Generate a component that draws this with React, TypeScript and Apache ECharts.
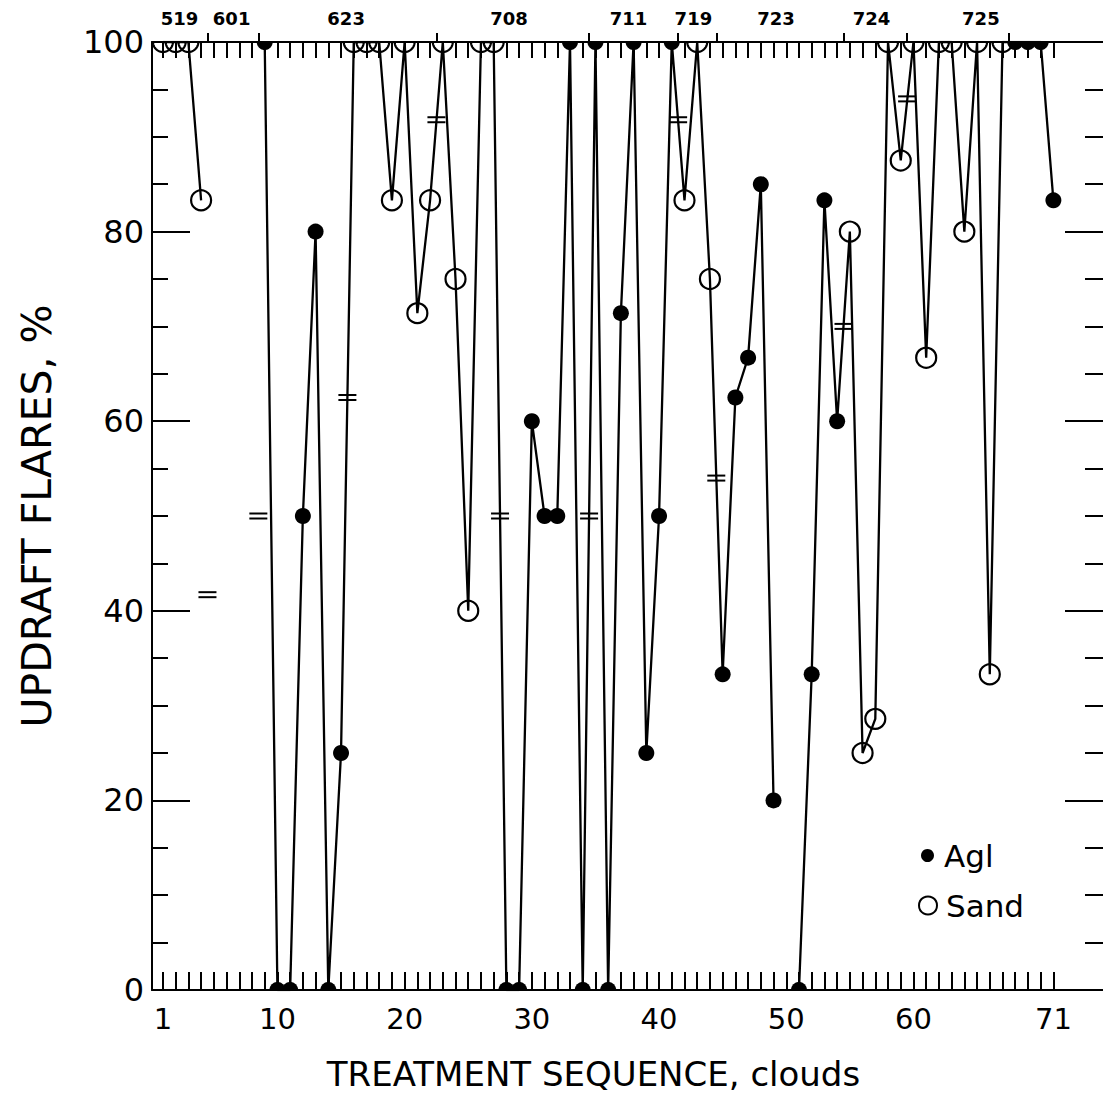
import React, { useEffect, useRef } from 'react';
import * as echarts from 'echarts';

// Cloud treatment sequence (1..71). null = no cloud plotted.
const cloudNumbers = [
  1, 2, 3, 4, 5, 6, 7, 8, 9, 10, 11, 12, 13, 14, 15, 16, 17, 18, 19, 20,
  21, 22, 23, 24, 25, 26, 27, 28, 29, 30, 31, 32, 33, 34, 35, 36, 37, 38, 39, 40,
  41, 42, 43, 44, 45, 46, 47, 48, 49, 50, 51, 52, 53, 54, 55, 56, 57, 58, 59, 60,
  61, 62, 63, 64, 65, 66, 67, 68, 69, 70, 71,
];
// A = AgI, S = Sand
const treatment = [
  'S', 'S', 'S', 'S', null, null, null, null, 'A', 'A', 'A', 'A', 'A', 'A', 'A', 'S', 'S', 'S', 'S', 'S',
  'S', 'S', 'S', 'S', 'S', 'S', 'S', 'A', 'A', 'A', 'A', 'A', 'A', 'A', 'A', 'A', 'A', 'A', 'A', 'A',
  'A', 'S', 'S', 'S', 'A', 'A', 'A', 'A', 'A', null, 'A', 'A', 'A', 'A', 'S', 'S', 'S', 'S', 'S', 'S',
  'S', 'S', 'S', 'S', 'S', 'S', 'S', 'A', 'A', 'A', 'A',
];
const updraftFlaresPct = [
  100, 100, 100, 83.3, null, null, null, null, 100, 0, 0, 50, 80, 0, 25, 100, 100, 100, 83.3, 100,
  71.4, 83.3, 100, 75, 40, 100, 100, 0, 0, 60, 50, 50, 100, 0, 100, 0, 71.4, 100, 25, 50,
  100, 83.3, 100, 75, 33.3, 62.5, 66.7, 85, 20, null, 0, 33.3, 83.3, 60, 80, 25, 28.6, 100, 87.5, 100,
  66.7, 100, 100, 80, 100, 33.3, 100, 100, 100, 100, 83.3,
];

const xTickLabels = [1, 10, 20, 30, 40, 50, 60, 71];
const yTickLabels = [0, 20, 40, 60, 80, 100];

// Day (date) groups along the top
const dayLabels = ['519', '601', '623', '708', '711', '719', '723', '724', '725'];
const dayLabelPositions = [2.3, 6.4, 15.4, 28.2, 37.6, 42.7, 49.2, 56.7, 65.3];
const dayBoundaries = [4.5, 8.5, 22.5, 34.5, 41.5, 44.5, 54.5, 59.5, 67.5];

// Break marks "=" drawn across the trace
const breakMarkX = [4.5, 8.5, 15.5, 22.5, 27.5, 34.5, 41.5, 44.5, 54.5, 59.5];
const breakMarkY = [41.7, 50, 62.5, 91.8, 50, 50, 91.8, 54, 70, 94];

const X_MIN = 0.14;
const X_MAX = 74.9;
const Y_MIN = 0;
const Y_MAX = 100;
const FONT = 'DejaVu Sans';

// part of a marker that stays inside the plot frame (markers on the frame are cut in half)
function visibleAngles(v: number): [number, number] | null {
  if (v >= Y_MAX) return [0, Math.PI]; // on top edge: lower half (screen y grows downward)
  if (v <= Y_MIN) return [Math.PI, Math.PI * 2]; // on bottom edge: upper half
  return null;
}

function arcPoints(cx: number, cy: number, r: number, a0: number, a1: number, n = 24): number[][] {
  const pts: number[][] = [];
  for (let k = 0; k <= n; k++) {
    const a = a0 + ((a1 - a0) * k) / n;
    pts.push([cx + r * Math.cos(a), cy + r * Math.sin(a)]);
  }
  return pts;
}

export default function App() {
  const ref = useRef<HTMLDivElement>(null);

  useEffect(() => {
    if (!ref.current) return;
    const chart = echarts.init(ref.current, null, { renderer: 'svg' });

    const lineData = cloudNumbers.map((c, i) => [c, updraftFlaresPct[i] === null ? '-' : updraftFlaresPct[i]]);
    const aglData = cloudNumbers
      .map((c, i) => (treatment[i] === 'A' ? [c, updraftFlaresPct[i]] : null))
      .filter((d) => d !== null);
    const sandData = cloudNumbers
      .map((c, i) => (treatment[i] === 'S' ? [c, updraftFlaresPct[i]] : null))
      .filter((d) => d !== null);
    const breakData = breakMarkX.map((x, i) => [x, breakMarkY[i]]);

    const black = '#000';
    const axisLineStyle = { color: black, width: 2 };

    chart.setOption({
      animation: false,
      backgroundColor: '#fff',
      textStyle: { fontFamily: FONT, color: black },
      grid: { left: 152, right: 0, top: 42, bottom: 121, containLabel: false },
      legend: [
        {
          data: [{ name: 'Agl', icon: 'circle', itemStyle: { color: black } }],
          selectedMode: false,
          orient: 'vertical',
          left: 916,
          top: 835,
          itemWidth: 13,
          itemHeight: 13,
          textStyle: { fontSize: 31, color: black, fontFamily: FONT, padding: [0, 0, 0, 5] },
        },
        {
          data: [
            {
              name: 'Sand',
              icon: 'circle',
              itemStyle: { color: 'rgba(0,0,0,0)', borderColor: black, borderWidth: 2 },
            },
          ],
          selectedMode: false,
          orient: 'vertical',
          left: 913,
          top: 885,
          itemWidth: 18,
          itemHeight: 18,
          textStyle: { fontSize: 31, color: black, fontFamily: FONT, padding: [0, 0, 0, 4] },
        },
      ],
      xAxis: [
        {
          type: 'value',
          position: 'bottom',
          min: X_MIN,
          max: X_MAX,
          axisLine: { show: true, onZero: false, lineStyle: axisLineStyle },
          axisTick: { show: true, inside: true, length: 18, customValues: cloudNumbers, lineStyle: { color: black, width: 2 } },
          axisLabel: { customValues: xTickLabels, fontSize: 29, color: black, margin: 14, fontFamily: FONT },
          splitLine: { show: false },
          name: 'TREATMENT SEQUENCE, clouds',
          nameLocation: 'middle',
          nameGap: 67,
          nameTextStyle: { fontSize: 34, color: black, fontFamily: FONT, padding: [0, 68, 0, 0] },
        },
        {
          type: 'value',
          position: 'top',
          min: X_MIN,
          max: X_MAX,
          axisLine: { show: true, onZero: false, lineStyle: axisLineStyle },
          axisTick: { show: true, inside: true, length: 16, customValues: cloudNumbers, lineStyle: { color: black, width: 2 } },
          axisLabel: { show: false },
          splitLine: { show: false },
        },
        {
          type: 'value',
          position: 'top',
          min: X_MIN,
          max: X_MAX,
          axisLine: { show: false, onZero: false },
          axisTick: { show: true, inside: false, length: 9, customValues: dayBoundaries, lineStyle: { color: black, width: 2 } },
          axisLabel: {
            customValues: dayLabelPositions,
            formatter: (v: number) => {
              const idx = dayLabelPositions.findIndex((p) => Math.abs(p - v) < 1e-6);
              return idx >= 0 ? dayLabels[idx] : '';
            },
            fontSize: 18,
            fontWeight: 'bold',
            color: black,
            margin: 15,
            fontFamily: FONT,
          },
          splitLine: { show: false },
        },
      ],
      yAxis: [
        {
          type: 'value',
          position: 'left',
          min: Y_MIN,
          max: Y_MAX,
          interval: 20,
          axisLine: { show: true, onZero: false, lineStyle: axisLineStyle },
          axisTick: { show: true, inside: true, length: 38, lineStyle: { color: black, width: 2 } },
          minorTick: { show: true, splitNumber: 4, length: 16, lineStyle: { color: black, width: 2 } },
          axisLabel: { customValues: yTickLabels, fontSize: 32, color: black, margin: 8, fontFamily: FONT },
          splitLine: { show: false },
          minorSplitLine: { show: false },
          name: 'UPDRAFT FLARES, %',
          nameLocation: 'middle',
          nameGap: 95,
          nameTextStyle: { fontSize: 41, color: black, fontFamily: FONT },
        },
        {
          type: 'value',
          position: 'right',
          min: Y_MIN,
          max: Y_MAX,
          interval: 20,
          axisLine: { show: false, onZero: false },
          axisTick: { show: true, inside: true, length: 38, lineStyle: { color: black, width: 2 } },
          minorTick: { show: true, splitNumber: 4, length: 18, lineStyle: { color: black, width: 2 } },
          axisLabel: { show: false },
          splitLine: { show: false },
          minorSplitLine: { show: false },
        },
      ],
      series: [
        {
          type: 'line',
          name: 'trace',
          data: lineData,
          xAxisIndex: 0,
          yAxisIndex: 0,
          showSymbol: false,
          symbol: 'none',
          connectNulls: false,
          lineStyle: { color: black, width: 2.3 },
          z: 2,
        },
        {
          type: 'custom',
          name: 'Agl',
          data: aglData,
          xAxisIndex: 0,
          yAxisIndex: 0,
          z: 3,
          itemStyle: { color: black },
          renderItem: (params: any, api: any) => {
            const v = api.value(1);
            const p = api.coord([api.value(0), v]);
            const half = visibleAngles(v);
            if (!half) {
              return { type: 'circle', shape: { cx: p[0], cy: p[1], r: 8 }, style: { fill: black } };
            }
            return {
              type: 'polygon',
              shape: { points: arcPoints(p[0], p[1], 8, half[0], half[1]) },
              style: { fill: black },
            };
          },
        },
        {
          type: 'custom',
          name: 'Sand',
          data: sandData,
          xAxisIndex: 0,
          yAxisIndex: 0,
          z: 3,
          itemStyle: { color: black },
          renderItem: (params: any, api: any) => {
            const v = api.value(1);
            const p = api.coord([api.value(0), v]);
            const half = visibleAngles(v);
            if (!half) {
              return {
                type: 'circle',
                shape: { cx: p[0], cy: p[1], r: 10 },
                style: { fill: 'none', stroke: black, lineWidth: 2.2 },
              };
            }
            return {
              type: 'polyline',
              shape: { points: arcPoints(p[0], p[1], 10, half[0], half[1]) },
              style: { fill: 'none', stroke: black, lineWidth: 2.2 },
            };
          },
        },
        {
          type: 'custom',
          name: 'breaks',
          data: breakData,
          xAxisIndex: 0,
          yAxisIndex: 0,
          z: 4,
          renderItem: (params: any, api: any) => {
            const p = api.coord([api.value(0), api.value(1)]);
            return {
              type: 'group',
              children: [
                { type: 'line', shape: { x1: p[0] - 9, y1: p[1] - 2.5, x2: p[0] + 9, y2: p[1] - 2.5 }, style: { stroke: black, lineWidth: 2 } },
                { type: 'line', shape: { x1: p[0] - 9, y1: p[1] + 2.5, x2: p[0] + 9, y2: p[1] + 2.5 }, style: { stroke: black, lineWidth: 2 } },
              ],
            };
          },
        },
      ],
    });

    return () => chart.dispose();
  }, []);

  return (
    <div
      ref={ref}
      style={{ position: 'absolute', left: 0, top: 0, width: 1103, height: 1111 }}
    />
  );
}
